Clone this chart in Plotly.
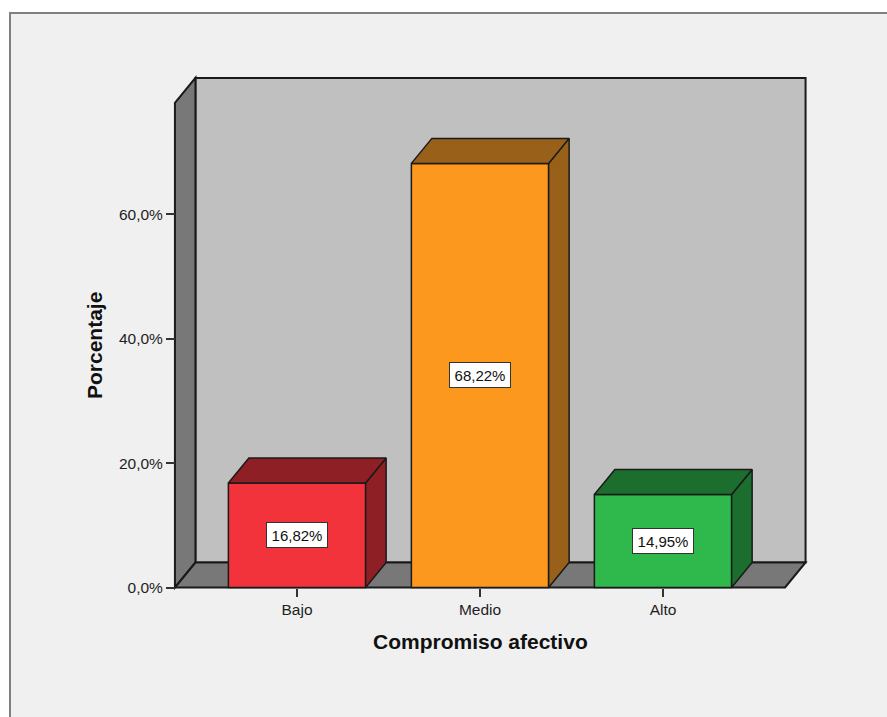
import plotly.graph_objects as go

# Survey result: share of respondents per level of affective commitment
categories = ["Bajo", "Medio", "Alto"]
percentages = [16.82, 68.22, 14.95]
y_tick_values = [0, 20, 40, 60]
y_tick_labels = ["0,0%", "20,0%", "40,0%", "60,0%"]

face_colors = ["#f2333b", "#fb981d", "#2fb84c"]
shade_colors = ["#8e1f24", "#99601a", "#1c6e2e"]
EDGE = "#1a1a1a"
TEXT = "#1f1f1f"
FONT = "Liberation Sans"

# Page layout and pseudo-3D box geometry
WIDTH, HEIGHT = 887, 717
PLOT_L, PLOT_R, PLOT_T, PLOT_B = 170, 810, 73, 593
ORIGIN_X, ORIGIN_Y = 297, 587.5    # pixel of the first category at 0 %
PX_PER_CAT, PX_PER_PCT = 183, 6.217
BAR_W = 0.75
DX, DY = 20.5 / PX_PER_CAT, 25 / PX_PER_PCT
X_MIN, X_MAX = -0.667, 2.667
Y_TOP = 77.95

positions = list(range(len(categories)))
x_range = [(PLOT_L - ORIGIN_X) / PX_PER_CAT, (PLOT_R - ORIGIN_X) / PX_PER_CAT]
y_range = [(ORIGIN_Y - PLOT_B) / PX_PER_PCT, (ORIGIN_Y - PLOT_T) / PX_PER_PCT]


def polygon(points):
    return "M " + " L ".join(f"{x},{y}" for x, y in points) + " Z"


def wall(points, color):
    return dict(type="path", path=polygon(points), xref="x", yref="y", layer="below",
                fillcolor=color, line=dict(color=EDGE, width=2))


# Outer panel, running off the right and bottom of the page
panel = dict(
    type="rect", xref="paper", yref="paper", layer="below",
    x0=(10 - PLOT_L) / (PLOT_R - PLOT_L), x1=(WIDTH + 20 - PLOT_L) / (PLOT_R - PLOT_L),
    y0=(PLOT_B - HEIGHT - 20) / (PLOT_B - PLOT_T), y1=(PLOT_B - 13) / (PLOT_B - PLOT_T),
    fillcolor="#f0f0f0", line=dict(color="#808080", width=2),
)
back_wall = wall([(X_MIN + DX, DY), (X_MAX + DX, DY), (X_MAX + DX, Y_TOP + DY), (X_MIN + DX, Y_TOP + DY)], "#c0c0c0")
side_wall = wall([(X_MIN, 0), (X_MIN + DX, DY), (X_MIN + DX, Y_TOP + DY), (X_MIN, Y_TOP)], "#787878")
floor = wall([(X_MIN, 0), (X_MAX, 0), (X_MAX + DX, DY), (X_MIN + DX, DY)], "#787878")

fig = go.Figure()

fig.add_trace(go.Bar(
    x=positions, y=percentages, width=BAR_W, cliponaxis=False, hoverinfo="skip",
    marker=dict(color=face_colors, line=dict(color=EDGE, width=1.5)),
))


def add_face(xs, ys, color):
    fig.add_trace(go.Scatter(
        x=xs, y=ys, mode="lines", fill="toself", fillcolor=color, cliponaxis=False,
        line=dict(color=EDGE, width=1.5), hoverinfo="skip",
    ))


# Right side and top of each bar, extruded by the box depth
for pos, value, shade in zip(positions, percentages, shade_colors):
    left, right = pos - BAR_W / 2, pos + BAR_W / 2
    add_face([right, right + DX, right + DX, right, right], [0, DY, value + DY, value, 0], shade)
    add_face([left, right, right + DX, left + DX, left], [value, value, value + DY, value + DY, value], shade)

annotations = [
    dict(x=pos, y=value / 2, xref="x", yref="y", showarrow=False,
         text=f"{value:.2f}%".replace(".", ","), width=58, height=22,
         bgcolor="white", bordercolor="#333333", borderwidth=1, borderpad=1,
         font=dict(family=FONT, size=15, color="#111111"))
    for pos, value in zip(positions, percentages)
]
annotations += [
    dict(x=1, y=(PLOT_B - 641) / (PLOT_B - PLOT_T), xref="x", yref="paper", showarrow=False,
         xanchor="center", yanchor="middle",
         text="<b>Compromiso afectivo</b>", font=dict(family=FONT, size=21, color="#111111")),
    dict(x=(94 - PLOT_L) / (PLOT_R - PLOT_L), y=(PLOT_B - 346) / (PLOT_B - PLOT_T),
         xref="paper", yref="paper", showarrow=False, textangle=-90,
         xanchor="center", yanchor="middle",
         text="<b>Porcentaje</b>", font=dict(family=FONT, size=21, color="#111111")),
]

fig.update_layout(
    width=WIDTH, height=HEIGHT, autosize=False, showlegend=False,
    margin=dict(l=PLOT_L, r=WIDTH - PLOT_R, t=PLOT_T, b=HEIGHT - PLOT_B, pad=0),
    paper_bgcolor="white", plot_bgcolor="rgba(0,0,0,0)",
    shapes=[panel, back_wall, side_wall, floor],
    annotations=annotations,
    font=dict(family=FONT, size=15.5, color=TEXT),
    xaxis=dict(
        range=x_range, tickmode="array", tickvals=positions, ticktext=categories,
        ticks="outside", ticklen=8, tickwidth=2, tickcolor="#333333",
        showgrid=False, zeroline=False, showline=False,
        anchor="free", position=(PLOT_B - ORIGIN_Y) / (PLOT_B - PLOT_T),
    ),
    yaxis=dict(
        range=y_range, tickmode="array", tickvals=y_tick_values, ticktext=y_tick_labels,
        ticks="outside", ticklen=9, tickwidth=2, tickcolor="#333333",
        showgrid=False, zeroline=False, showline=False,
        anchor="free", position=(175 - PLOT_L) / (PLOT_R - PLOT_L),
    ),
)

fig.write_html("out.html", config=dict(displayModeBar=False))
